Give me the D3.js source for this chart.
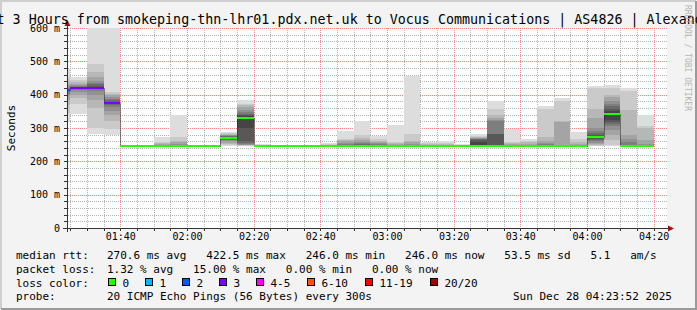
<!DOCTYPE html>
<html>
<head>
<meta charset="utf-8">
<script src="https://cdn.jsdelivr.net/npm/d3@7"></script>
<style>
body { margin: 0; background: #f3f3f3; }
text { font-family: "DejaVu Sans Mono", monospace; }
</style>
</head>
<body>
<svg id="chart" width="697" height="310"></svg>
<script>
// step start times (5 min steps, 20 pings each)
var stepStart = ["01:20","01:25","01:30","01:35","01:40","01:45","01:50","01:55","02:00","02:05",
                 "02:10","02:15","02:20","02:25","02:30","02:35","02:40","02:45","02:50","02:55",
                 "03:00","03:05","03:10","03:15","03:20","03:25","03:30","03:35","03:40","03:45",
                 "03:50","03:55","04:00","04:05","04:10","04:15"];
// median rtt per step, ms
var median = [415,420,420,376,246,246,246,246,246,246,
              271,330,246,246,246,246,246,246,246,246,
              246,246,246,246,246,246,246,246,246,246,
              246,246,274,343,246,246];
// lost pings per step (of 20)
var lossCount = [2,3,3,3,0,0,0,0,0,0,0,0,0,0,0,0,0,0,0,0,0,0,0,0,0,0,0,0,0,0,0,0,0,0,0,0];
// sorted ping rtts per step, ms
var pings = [
  [318,345,370,385,395,402,408,411,413,415,416,418,421,426,432,440,452,478],
  [343,373,390,400,408,413,416,418,420,421,423,426,429,433,438,443,453],
  [283,300,360,385,400,410,416,420,424,427,431,436,442,452,468,493,612],
  [278,298,320,340,352,362,368,372,376,379,383,388,393,398,403,408,612],
  [246,246,246,246,246,246,246,246,246,246,246,246,246,246,246,246,246,246,246,246],
  [246,246,246,246,246,246,246,246,246,246,246,246,246,246,246,246,246,246,246,246],
  [246,246,246,246,246,246,246,246,246,246,246,246,246,246,248,250,252,255,258,273],
  [246,246,246,246,246,246,246,246,246,246,246,246,246,248,250,253,257,262,273,338],
  [246,246,246,246,246,246,246,246,246,246,246,246,246,246,246,246,246,246,246,246],
  [246,246,246,246,246,246,246,246,246,246,246,246,246,246,246,246,246,246,247,248],
  [246,248,252,256,260,263,265,267,269,270,272,273,274,275,276,278,280,282,285,288],
  [246,247,248,249,250,252,255,260,300,328,332,335,338,342,348,355,362,368,373,383],
  [246,246,246,246,246,246,246,246,246,246,246,246,246,246,246,246,246,248,250,252],
  [246,246,246,246,246,246,246,246,246,246,246,246,246,246,246,246,246,246,246,246],
  [246,246,246,246,246,246,246,246,246,246,246,246,246,246,246,246,246,246,246,246],
  [246,246,246,246,246,246,246,246,246,246,246,246,246,246,246,246,246,246,246,246],
  [246,246,246,246,246,246,246,246,246,246,246,246,246,246,246,246,248,250,252,255],
  [246,246,246,246,246,246,246,246,246,246,246,246,248,250,253,256,260,264,268,291],
  [246,246,246,246,246,246,246,246,246,246,246,246,248,251,254,258,263,270,278,321],
  [246,246,246,246,246,246,246,246,246,246,246,246,246,248,251,254,258,262,268,276],
  [246,246,246,246,246,246,246,246,246,246,246,246,246,246,248,250,252,255,258,308],
  [246,246,246,246,246,246,246,246,246,246,246,246,246,248,250,253,257,262,281,456],
  [246,246,246,246,246,246,246,246,246,246,246,246,246,246,246,248,250,252,254,258],
  [246,246,246,246,246,246,246,246,246,246,246,246,246,246,246,248,250,253,256,260],
  [246,246,246,246,246,246,246,246,246,246,246,246,246,246,246,246,246,248,250,252],
  [246,246,246,246,246,246,246,246,246,246,250,258,264,266,268,269,270,272,275,281],
  [246,246,246,246,246,246,246,246,246,246,246,250,282,283,322,325,331,338,358,381],
  [246,246,246,246,246,246,246,246,246,246,246,246,246,246,248,250,252,255,258,298],
  [246,246,246,246,246,246,246,246,246,246,246,246,246,246,248,250,253,257,261,266],
  [246,246,246,246,246,246,246,246,246,246,246,246,246,248,251,255,260,273,356,365],
  [246,246,246,246,246,246,246,246,246,246,246,246,246,246,246,250,318,321,381,390],
  [246,246,246,246,246,246,246,246,246,246,246,246,246,246,248,250,253,258,268,288],
  [246,247,249,252,256,260,264,268,271,273,275,277,280,284,290,300,330,358,420,426],
  [246,250,263,280,295,305,312,318,325,338,346,352,358,365,372,381,392,400,421,430],
  [246,246,246,246,246,246,246,246,246,246,246,246,246,250,258,268,278,353,411,420],
  [246,246,246,246,246,246,246,246,246,246,246,246,246,246,246,252,265,300,305,338]
];
var lossLabels = ["0","1","2","3","4-5","6-10","11-19","20/20"];
var lossColors = ["#26ff00","#00b8ff","#0059ff","#7e00ff","#ff00ff","#ff5500","#ff0000","#a10000"];
var title = "Last 3 Hours from smokeping-thn-lhr01.pdx.net.uk to Vocus Communications | AS4826 | Alexandria";
var rttStats = "270.6 ms avg   422.5 ms max   246.0 ms min   246.0 ms now   53.5 ms sd   5.1   am/s";
var lossStats = "1.32 % avg   15.00 % max   0.00 % min   0.00 % now";
var probeText = "20 ICMP Echo Pings (56 Bytes) every 300s";
var stamp = "Sun Dec 28 04:23:52 2025";

var svg = d3.select("#chart");
var W = 697, H = 310;
var parse = d3.timeParse("%Y-%m-%d %H:%M");
var day = "2025-12-28 ";

var x = d3.scaleTime()
  .domain([parse(day + "01:24"), parse(day + "04:24")])
  .range([67, 667]);
var y = d3.scaleLinear().domain([0, 600]).range([228, 28]);

function lossColor(n) {
  if (n <= 0) return lossColors[0];
  if (n <= 3) return lossColors[n];
  if (n <= 5) return lossColors[4];
  if (n <= 10) return lossColors[5];
  if (n <= 19) return lossColors[6];
  return lossColors[7];
}
function px(v) { return Math.round(v) + 0.5; }

// dot patterns for the grid (1 px on, 1 px off)
var defs = svg.append("defs");
[["hMinor", 2, 1, "#b4b4b4"], ["hMajor", 2, 1, "#ee8a8a"],
 ["vMinor", 1, 2, "#b4b4b4"], ["vMajor", 1, 2, "#ee8a8a"]].forEach(function(p) {
  defs.append("pattern").attr("id", p[0]).attr("patternUnits", "userSpaceOnUse")
    .attr("width", p[1]).attr("height", p[2])
    .append("rect").attr("width", 1).attr("height", 1).attr("fill", p[3]);
});

// background and frame
svg.append("rect").attr("width", W).attr("height", H).attr("fill", "#f3f3f3");
svg.append("rect").attr("x", 67).attr("y", 28).attr("width", 600).attr("height", 200).attr("fill", "#fff");
svg.append("path").attr("d", "M1,309V1H696").attr("fill", "none").attr("stroke", "#cfcfcf").attr("stroke-width", 2);
svg.append("path").attr("d", "M1,309H696V1").attr("fill", "none").attr("stroke", "#9a9a9a").attr("stroke-width", 2);

// grid
var grid = svg.append("g").attr("shape-rendering", "crispEdges");
y.ticks(30).forEach(function(v) {
  if (v === 0) return;
  grid.append("rect")
    .attr("x", 67).attr("y", Math.round(y(v))).attr("width", 600).attr("height", 1)
    .attr("fill", v % 100 === 0 ? "url(#hMajor)" : "url(#hMinor)");
});
x.ticks(d3.timeMinute.every(5)).forEach(function(t) {
  var major = t.getMinutes() % 20 === 0;
  grid.append("rect")
    .attr("x", Math.round(x(t))).attr("y", 28).attr("width", 1).attr("height", 200)
    .attr("fill", major ? "url(#vMajor)" : "url(#vMinor)");
});

// smoke
svg.append("clipPath").attr("id", "plotclip")
  .append("rect").attr("x", 67).attr("y", 28).attr("width", 600).attr("height", 200);
var plot = svg.append("g").attr("clip-path", "url(#plotclip)");
var smoke = plot.append("g").attr("shape-rendering", "crispEdges");

pings.forEach(function(p, i) {
  var t0 = parse(day + stepStart[i]);
  var t1 = d3.timeMinute.offset(t0, 5);
  var n = p.length;
  for (var k = 0; k < 10 && k < n - 1 - k; k++) {
    var lo = p[k], hi = p[n - 1 - k];
    if (hi <= lo) continue;
    var c = Math.floor(190 / 10 * (10 - (k + 1))) + 50;
    smoke.append("rect")
      .attr("x", Math.round(x(t0))).attr("width", Math.round(x(t1)) - Math.round(x(t0)))
      .attr("y", y(hi)).attr("height", y(lo) - y(hi))
      .attr("fill", d3.rgb(c, c, c));
  }
});

// median line
var medPts = median.map(function(m, i) { return [parse(day + stepStart[i]), m]; });
medPts.push([d3.timeMinute.offset(medPts[medPts.length - 1][0], 5), median[median.length - 1]]);
plot.append("path")
  .attr("d", d3.line().x(function(d) { return Math.round(x(d[0])) + 0.5; })
    .y(function(d) { return px(y(d[1])); }).curve(d3.curveStepAfter)(medPts))
  .attr("fill", "none").attr("stroke", "#202020").attr("stroke-width", 1)
  .attr("stroke-dasharray", "1,1");

median.forEach(function(m, i) {
  var t0 = parse(day + stepStart[i]);
  var t1 = d3.timeMinute.offset(t0, 5);
  plot.append("rect")
    .attr("x", Math.round(x(t0))).attr("width", Math.round(x(t1)) - Math.round(x(t0)))
    .attr("y", Math.round(y(m + 3))).attr("height", 2)
    .attr("fill", lossColor(lossCount[i]))
    .attr("shape-rendering", "crispEdges");
});

// axes
var axisCol = "#333";
y.ticks(30).forEach(function(v) {
  svg.append("line").attr("x1", 64).attr("x2", 67).attr("y1", px(y(v))).attr("y2", px(y(v)))
    .attr("stroke", axisCol);
});
x.ticks(d3.timeMinute.every(5)).forEach(function(t) {
  svg.append("line").attr("x1", px(x(t))).attr("x2", px(x(t))).attr("y1", 228).attr("y2", 231)
    .attr("stroke", axisCol);
});
svg.append("line").attr("x1", 67.5).attr("x2", 67.5).attr("y1", 232).attr("y2", 25).attr("stroke", axisCol);
svg.append("line").attr("x1", 63).attr("x2", 670).attr("y1", 228.5).attr("y2", 228.5).attr("stroke", axisCol);
svg.append("path").attr("d", "M67.5,20L70.5,26L64.5,26Z").attr("fill", "#a01010");
svg.append("path").attr("d", "M674,228.5L668,225.5L668,231.5Z").attr("fill", "#a01010");

var xAxis = svg.append("g").attr("transform", "translate(0,228)")
  .call(d3.axisBottom(x).tickValues(x.ticks(d3.timeMinute.every(20)))
    .tickFormat(d3.timeFormat("%H:%M")).tickSize(0).tickPadding(5));
var yAxis = svg.append("g").attr("transform", "translate(67,0)")
  .call(d3.axisLeft(y).ticks(6).tickFormat(function(d) { return d ? d + " m" : "0"; })
    .tickSize(0).tickPadding(7));
[xAxis, yAxis].forEach(function(a) {
  a.select(".domain").remove();
  a.selectAll("text").attr("font-family", "DejaVu Sans Mono").attr("font-size", 10).attr("fill", "#000");
});

// y title
svg.append("text").attr("transform", "translate(15,128) rotate(-90)")
  .attr("text-anchor", "middle").attr("font-size", 11).text("Seconds");

// title
svg.append("text").attr("x", -27.5).attr("y", 24).attr("font-size", 13.33).text(title);

// watermark
svg.append("text").attr("transform", "translate(685,5) rotate(90)")
  .attr("font-size", 8).attr("fill", "#b4b4b4").text("RRDTOOL / TOBI OETIKER");

// legend
var fs = 11;
function legendText(xx, yy, s) {
  svg.append("text").attr("x", xx).attr("y", yy).attr("font-size", fs)
    .style("white-space", "pre").text(s);
}
legendText(16, 259, "median rtt:");
legendText(107, 259, rttStats);
legendText(16, 272.5, "packet loss:");
legendText(107, 272.5, lossStats);
legendText(16, 286.5, "loss color:");
legendText(16, 300, "probe:");
legendText(107, 300, probeText);
legendText(513, 300, stamp);

var boxX = [108.5, 145.5, 182.5, 219.5, 256.5, 307.5, 365.5, 430.5];
lossLabels.forEach(function(l, i) {
  svg.append("rect").attr("x", boxX[i]).attr("y", 278.5).attr("width", 7).attr("height", 7)
    .attr("fill", lossColors[i]).attr("stroke", "#000");
  legendText(boxX[i] + 14, 286.5, l);
});
</script>
</body>
</html>
